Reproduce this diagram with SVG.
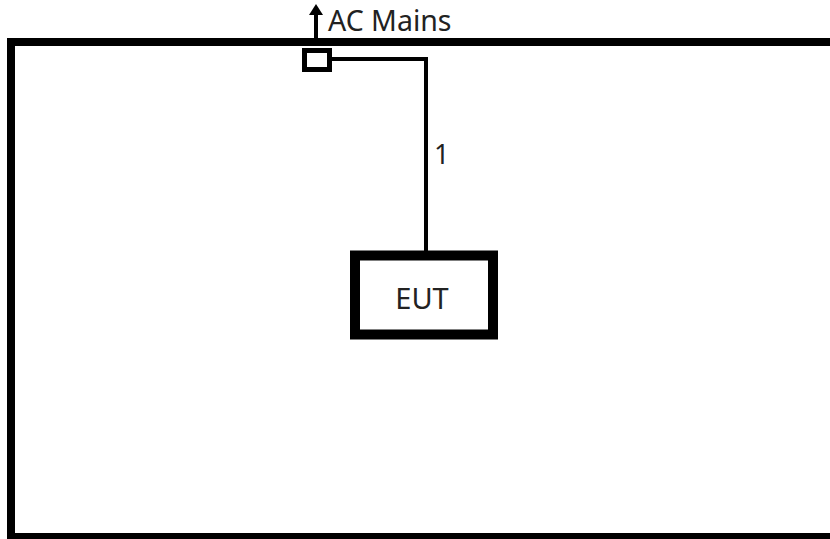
<svg xmlns="http://www.w3.org/2000/svg" width="830" height="539" viewBox="0 0 830 539">
<style>
.t{font-family:"Noto Sans","Open Sans","DejaVu Sans",sans-serif;fill:#222}
.w{stroke:#000;stroke-width:4;fill:none}
</style>
<rect width="830" height="539" fill="#fff"/>
<g id="room"><rect x="11" y="42" width="830" height="495" fill="none" stroke="#000" stroke-width="8"/></g>
<g id="connectors">
<polyline class="w" points="330,59 426,59 426,252"/>
<line class="w" x1="316" y1="42" x2="316" y2="12"/>
<polygon points="309,15 316,4 323,15" fill="#000"/>
</g>
<g id="socket"><rect x="304.5" y="50.5" width="25" height="19" fill="#fff" stroke="#000" stroke-width="5"/></g>
<g id="acmains"><text class="t" x="328" y="31" font-size="28.5">AC Mains</text></g>
<g id="label1"><text class="t" x="434" y="164" font-size="27">1</text></g>
<g id="eut"><rect x="355" y="255.5" width="138" height="79" fill="#fff" stroke="#000" stroke-width="10"/>
<text class="t" x="422" y="309" font-size="29" text-anchor="middle">EUT</text></g>
</svg>
